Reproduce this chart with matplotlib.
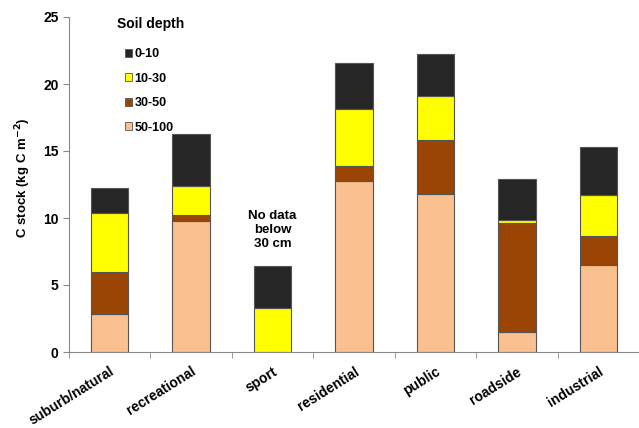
import matplotlib
matplotlib.use("Agg")
import matplotlib.pyplot as plt
from matplotlib.patches import Patch
import numpy as np

plt.rcParams['font.family'] = ['Liberation Sans', 'DejaVu Sans']
plt.rcParams['font.weight'] = 'bold'

categories = ['suburb/natural', 'recreational', 'sport', 'residential',
              'public', 'roadside', 'industrial']
depths = ['0-10', '10-30', '30-50', '50-100']
# values per depth layer (kg C m-2), stacked from bottom (50-100) upwards
d50_100 = [2.8, 9.75, 0.0, 12.75, 11.8, 1.5, 6.5]
d30_50 = [3.2, 0.5, 0.0, 1.15, 4.0, 8.15, 2.15]
d10_30 = [4.4, 2.15, 3.3, 4.25, 3.3, 0.2, 3.05]
d0_10 = [1.85, 3.85, 3.1, 3.45, 3.15, 3.05, 3.6]
colors = {'0-10': '#262626', '10-30': '#ffff00', '30-50': '#9a4504', '50-100': '#fac090'}

fig = plt.figure(figsize=(6.39, 4.28), dpi=100)
ax = fig.add_axes([69/639, 1 - 352/428, (639 - 69)/639, (352 - 17)/428])

x = np.arange(len(categories))
w = 0.46
bottom = np.zeros(len(categories))
for name, vals in [('50-100', d50_100), ('30-50', d30_50), ('10-30', d10_30), ('0-10', d0_10)]:
    vals = np.array(vals)
    ax.bar(x, vals, w, bottom=bottom, color=colors[name], edgecolor='#555555', linewidth=0.8)
    bottom += vals

ax.set_ylim(0, 25)
ax.set_yticks([0, 5, 10, 15, 20, 25])
ax.set_xlim(-0.5, 6.37)
ax.set_xticks(x)
ax.set_xticklabels(categories, rotation=32, ha='right', rotation_mode='anchor', fontsize=10)
ax.set_xticks(np.arange(-0.5, 7, 1), minor=True)
ax.tick_params(axis='x', which='major', length=0, pad=9)
ax.tick_params(axis='x', which='minor', length=4, color='#888888')
ax.tick_params(axis='y', length=4, color='#888888', labelsize=10)
for s in ['top', 'right']:
    ax.spines[s].set_visible(False)
for s in ['left', 'bottom']:
    ax.spines[s].set_color('#888888')

ax.set_ylabel('C stock (kg C m$^{\\mathbf{-2}}$)', fontsize=9.5, fontweight='bold')
ax.yaxis.set_label_coords(-0.064, 0.52)

fig.text(117/639, 1 - 24/428, 'Soil depth', ha='left', va='center', fontsize=10, fontweight='bold')
handles = [Patch(facecolor=colors[d], edgecolor='#555555', linewidth=0.6) for d in depths]
leg = ax.legend(handles, depths, loc='upper left', bbox_to_anchor=(0.089, 0.922), frameon=False,
                fontsize=9, handlelength=0.6, handleheight=0.6, borderaxespad=0,
                handletextpad=0.2, labelspacing=1.0)

ax.text(2, 7.6, 'No data\nbelow\n30 cm', ha='center', va='bottom', fontsize=9.5,
        fontweight='bold', linespacing=1.25)

fig.savefig('out.png', dpi=100)
